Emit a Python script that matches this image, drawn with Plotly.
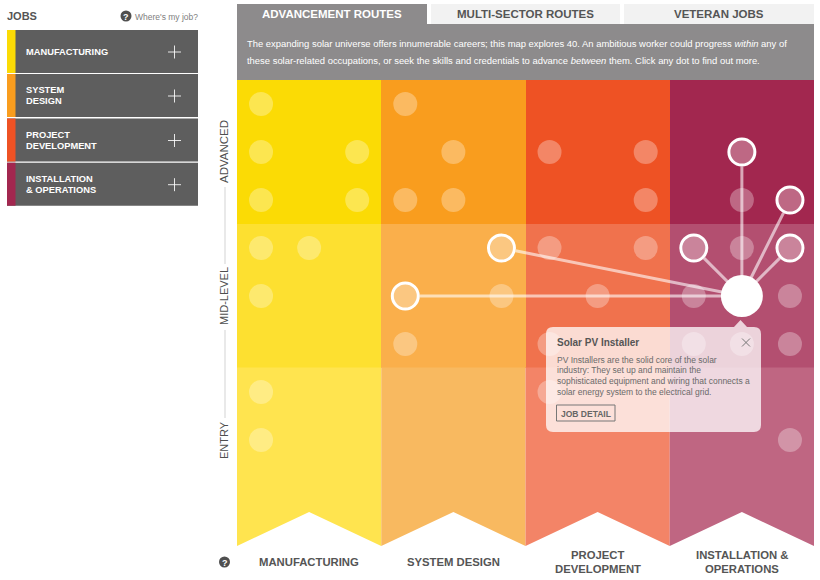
import numpy as np
import plotly.graph_objects as go

W, H = 820, 580
FONT = "Liberation Sans"

sectors = ["MANUFACTURING", "SYSTEM DESIGN", "PROJECT<br>DEVELOPMENT", "INSTALLATION &<br>OPERATIONS"]
menu_labels = ["MANUFACTURING", "SYSTEM<br>DESIGN", "PROJECT<br>DEVELOPMENT", "INSTALLATION<br>& OPERATIONS"]
levels = ["ADVANCED", "MID-LEVEL", "ENTRY"]
advanced_colors = ["#FBDB05", "#F99D1E", "#EE5224", "#A2274F"]
mid_colors = ["#FDE030", "#FAAF4B", "#F0724D", "#B34F70"]
entry_colors = ["#FFE44F", "#F8B960", "#F38467", "#BF6682"]
tabs = ["ADVANCEMENT ROUTES", "MULTI-SECTOR ROUTES", "VETERAN JOBS"]

# Dot positions on the map's 12 x 8 career grid: (column, row)
dot_col = [0, 3,
           0, 2, 4, 6, 8,
           0, 2, 3, 4, 8, 10,
           0, 1, 6, 8, 10,
           0, 5, 7, 9, 11,
           3, 6, 9, 10, 11,
           0, 6,
           0, 11]
dot_row = [0, 0,
           1, 1, 1, 1, 1,
           2, 2, 2, 2, 2, 2,
           3, 3, 3, 3, 3,
           4, 4, 4, 4, 4,
           5, 5, 5, 5, 5,
           6, 6,
           7, 7]
route_col = [10, 11, 5, 9, 11, 3]
route_row = [1, 2, 3, 3, 3, 4]
selected_col = [10]
selected_row = [4]


def px(x):
    return x / W


def py(y):
    return 1 - y / H


def rect(x0, y0, x1, y1, color):
    return dict(type="rect", xref="paper", yref="paper", x0=px(x0), x1=px(x1), y0=py(y0), y1=py(y1),
                fillcolor=color, line_width=0, layer="below")


def seg(x0, y0, x1, y1, color, width):
    return dict(type="line", xref="paper", yref="paper", x0=px(x0), x1=px(x1), y0=py(y0), y1=py(y1),
                line=dict(color=color, width=width))


def text(x, y, s, size, color, bold=False, anchor="left", angle=0, valign="middle"):
    if bold:
        s = "<b>" + s + "</b>"
    return dict(xref="paper", yref="paper", x=px(x), y=py(y), text=s, showarrow=False, xanchor=anchor,
                yanchor=valign, textangle=angle, align=anchor,
                font=dict(family=FONT, size=size, color=color), borderpad=0, borderwidth=0)


def lines(x, y, s, size, color, leading, anchor="left"):
    parts = s.split("<br>")
    start = y - leading * (len(parts) - 1) / 2
    return [text(x, start + i * leading, p, size, color, bold=True, anchor=anchor) for i, p in enumerate(parts)]


fig = go.Figure()

# Level bands
cols = np.arange(4) * 3 + 1.5
fig.add_trace(go.Bar(x=cols, y=[3] * 4, base=[0] * 4, width=3, marker=dict(color=advanced_colors, line_width=0)))
fig.add_trace(go.Bar(x=cols, y=[3] * 4, base=[3] * 4, width=3, marker=dict(color=mid_colors, line_width=0)))
for c, col in zip(cols, entry_colors):
    fig.add_trace(go.Scatter(x=[c - 1.5, c + 1.5, c + 1.5, c, c - 1.5, c - 1.5],
                             y=[5.99, 5.99, 9.7083, 9, 9.7083, 5.99], mode="lines", fill="toself",
                             fillcolor=col, line=dict(width=0, color=col)))

# Route lines, stopping at each ringed dot's edge
sx, sy = selected_col[0] + 0.5, selected_row[0] + 0.5
for c, r in zip(route_col, route_row):
    tx, ty = c + 0.5, r + 0.5
    d = np.hypot(tx - sx, ty - sy)
    ux, uy = (tx - sx) / d, (ty - sy) / d
    end = d - 0.3
    fig.add_trace(go.Scatter(x=[sx, sx + ux * end], y=[sy, sy + uy * end], mode="lines",
                             line=dict(color="rgba(255,255,255,0.6)", width=3)))

fig.add_trace(go.Scatter(x=np.array(dot_col) + 0.5, y=np.array(dot_row) + 0.5, mode="markers",
                         marker=dict(size=24, color="rgba(255,255,255,0.3)", line_width=0)))
fig.add_trace(go.Scatter(x=np.array(route_col) + 0.5, y=np.array(route_row) + 0.5, mode="markers",
                         marker=dict(size=26, color="rgba(255,255,255,0.3)", line=dict(color="white", width=3))))
fig.add_trace(go.Scatter(x=np.array(selected_col) + 0.5, y=np.array(selected_row) + 0.5, mode="markers",
                         marker=dict(size=42, color="white", line_width=0)))

shapes, ann = [], []

# Left menu
ann.append(text(7, 16, "JOBS", 11, "#555555", bold=True))
shapes.append(dict(type="circle", xref="paper", yref="paper", x0=px(120.5), x1=px(131.5), y0=py(21.5), y1=py(10.5),
                   fillcolor="#4F4F4F", line_width=0, layer="below"))
ann.append(text(126, 16.5, "?", 9, "white", bold=True, anchor="center"))
ann.append(text(135, 16.5, "Where's my job?", 8.5, "#808080"))
menu_tops = [30, 74, 118.5, 162.7]
for top, lab, col in zip(menu_tops, menu_labels, advanced_colors):
    shapes.append(rect(7, top, 198, top + 43, "#5E5E5E"))
    shapes.append(rect(7, top, 15.5, top + 43, col))
    ann.extend(lines(26, top + 21.7, lab, 9.3, "white", 11.3))
    shapes.append(seg(168, top + 22, 181, top + 22, "rgba(255,255,255,0.85)", 1))
    shapes.append(seg(174.5, top + 15.5, 174.5, top + 28.5, "rgba(255,255,255,0.85)", 1))

# Header and tabs
shapes.append(rect(237, 4, 427, 26, "#8D8B8C"))
shapes.append(rect(237, 24, 814, 80, "#8D8B8C"))
shapes.append(rect(431, 4, 620, 24, "#F2F2F2"))
shapes.append(rect(624, 4, 814, 24, "#F2F2F2"))
for cx, t, c in zip([332, 525.5, 719], tabs, ["white", "#555555", "#555555"]):
    ann.append(text(cx, 14, t, 11.5, c, bold=True, anchor="center"))
ann.append(text(247, 43.5, "The expanding solar universe offers innumerable careers; this map explores 40. "
                           "An ambitious worker could progress <i>within</i> any of", 9.43, "white"))
ann.append(text(247, 60.5, "these solar-related occupations, or seek the skills and credentials to advance "
                           "<i>between</i> them. Click any dot to find out more.", 9.43, "white"))

# Level labels with the rule between them
for y0, y1 in [(187, 264), (330, 418)]:
    shapes.append(seg(225, y0, 225, y1, "#E2E2E2", 1.5))
for y, lab, size in zip([152, 296, 440], levels, [11.5, 11, 11]):
    ann.append(text(224, y, lab, size, "#4F4F4F", anchor="center", angle=-90))

# Sector labels
for x, lab in zip([309, 453.5, 597.5, 741.5], sectors):
    ann.extend(lines(x, 561.5, lab, 11.3, "#555555", 14, anchor="center"))
shapes.append(dict(type="circle", xref="paper", yref="paper", x0=px(219), x1=px(230), y0=py(567.5), y1=py(556.5),
                   fillcolor="#4F4F4F", line_width=0, layer="below"))
ann.append(text(224.5, 562.5, "?", 9, "white", bold=True, anchor="center"))

# Tooltip
l, r, t, b, q = 546, 761, 327, 432, 7
P = lambda x, y: f"{px(x):.5f},{py(y):.5f}"
path = (f"M{P(l + q, t)} L{P(734, t)} L{P(740.5, 320)} L{P(747, t)} L{P(r - q, t)} Q{P(r, t)} {P(r, t + q)} "
        f"L{P(r, b - q)} Q{P(r, b)} {P(r - q, b)} L{P(l + q, b)} Q{P(l, b)} {P(l, b - q)} "
        f"L{P(l, t + q)} Q{P(l, t)} {P(l + q, t)} Z")
shapes.append(dict(type="path", xref="paper", yref="paper", path=path, fillcolor="rgba(255,255,255,0.75)",
                   line_width=0, layer="above"))
ann.append(text(557, 342.5, "Solar PV Installer", 10, "#555555", bold=True))
for y, s in zip([359.5, 370, 380.5, 391.5],
                ["PV Installers are the solid core of the solar",
                 "industry: They set up and maintain the",
                 "sophisticated equipment and wiring that connects a",
                 "solar energy system to the electrical grid."]):
    ann.append(text(557, y, s, 8.5, "#6A6A6A"))
shapes.append(dict(type="rect", xref="paper", yref="paper", x0=px(556.5), x1=px(615), y0=py(405), y1=py(421),
                   line=dict(color="#777777", width=1), fillcolor="rgba(0,0,0,0)", layer="above"))
ann.append(text(586, 413.5, "JOB DETAIL", 8.5, "#666666", bold=True, anchor="center"))
shapes.append(seg(742, 338.5, 750, 346.5, "#777777", 1))
shapes.append(seg(742, 346.5, 750, 338.5, "#777777", 1))

fig.update_layout(
    width=W, height=H, margin=dict(l=0, r=0, t=0, b=0), paper_bgcolor="white", plot_bgcolor="white",
    showlegend=False, barmode="overlay", bargap=0, hovermode=False,
    xaxis=dict(domain=[px(237), px(814)], range=[0, 12], visible=False, fixedrange=True),
    yaxis=dict(domain=[py(546), py(80)], range=[9.7083, 0], visible=False, fixedrange=True),
    shapes=shapes, annotations=ann, font=dict(family=FONT),
)
fig.write_html("out.html", config={"displayModeBar": False},
               post_script="document.body.style.margin='0';document.documentElement.style.overflow='hidden';")
